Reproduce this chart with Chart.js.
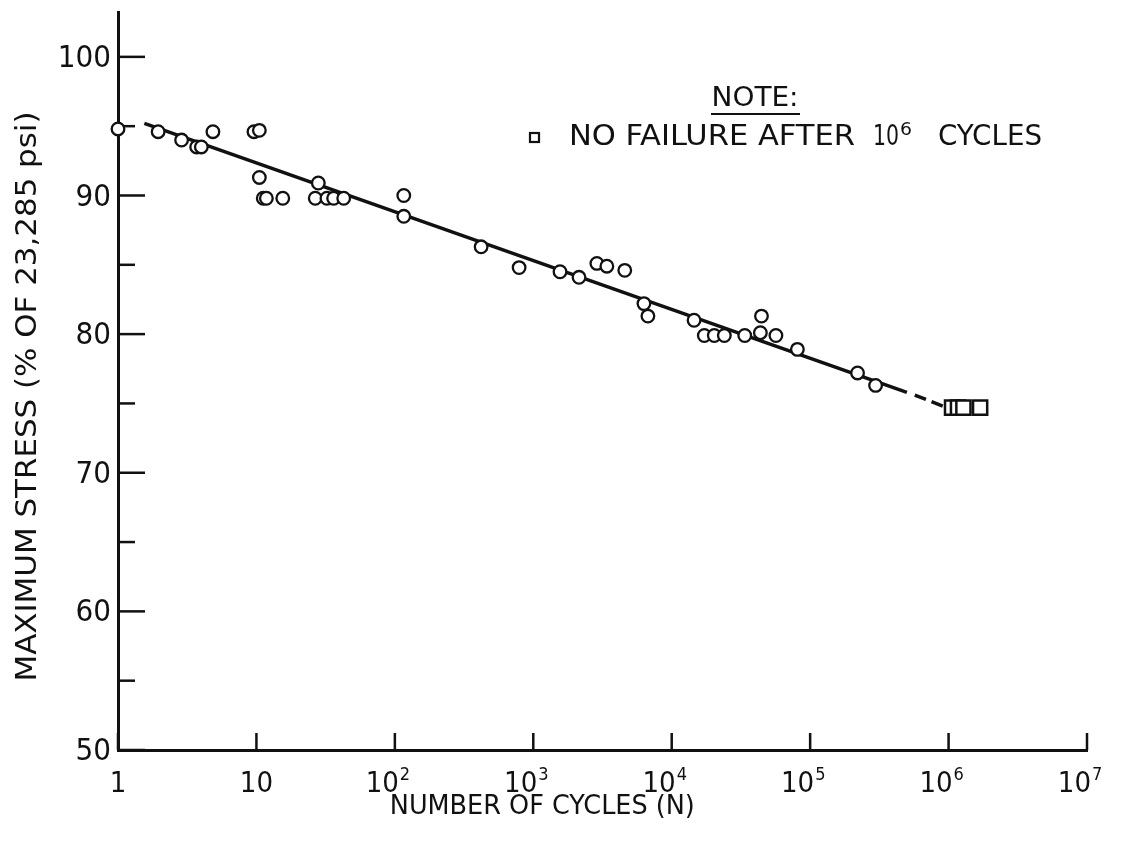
<!DOCTYPE html>
<html>
<head>
<meta charset="utf-8">
<script src="https://cdn.jsdelivr.net/npm/chart.js@4.4.1/dist/chart.umd.min.js"></script>
<style>
  html, body { margin: 0; padding: 0; background: #fff; }
  canvas { display: block; }
</style>
</head>
<body>
<canvas id="snChart" width="1128" height="844"></canvas>
<script>
// S-N fatigue data
const failCycles = [1, 1.95, 2.88, 3.7, 4.0, 4.85, 9.6, 10.5, 10.5, 11.2, 11.8, 15.5,
  28, 26.6, 32.3, 36.1, 42.7, 116, 116, 420, 790, 1560, 2140, 2880, 3400, 4580,
  6300, 6730, 14500, 17200, 20300, 24000, 33700, 44500, 43700, 56600, 80900, 220000, 297000];
const failStress = [94.8, 94.6, 94.0, 93.5, 93.5, 94.6, 94.6, 94.7, 91.3, 89.8, 89.8, 89.8,
  90.9, 89.8, 89.8, 89.8, 89.8, 90.0, 88.5, 86.3, 84.8, 84.5, 84.1, 85.1, 84.9, 84.6,
  82.2, 81.3, 81.0, 79.9, 79.9, 79.9, 79.9, 81.3, 80.1, 79.9, 78.9, 77.2, 76.3];

// run-outs (no failure after 10^6 cycles)
const runoutCycles = [1.06e6, 1.17e6, 1.28e6, 1.69e6];
const runoutStress = [74.7, 74.7, 74.7, 74.7];

// fitted line, solid part and dashed extension
const fitCycles = [1.55, 5.0e5];
const fitStress = [95.2, 75.8];
const fitExtCycles = [5.7e5, 9.7e5];
const fitExtStress = [75.6, 74.7];

const xTickValues = [1, 10, 100, 1e3, 1e4, 1e5, 1e6, 1e7];
const xTickBase = ["1", "10", "10", "10", "10", "10", "10", "10"];
const xTickExp = ["", "", "2", "3", "4", "5", "6", "7"];
const yTickValues = [50, 55, 60, 65, 70, 75, 80, 85, 90, 95, 100];
const yTickLabels = ["50", "", "60", "", "70", "", "80", "", "90", "", "100"];

const COND = "'DejaVu Sans Condensed', 'DejaVu Sans', sans-serif";
const INK = "#111";

const toPoints = (xs, ys) => xs.map((x, i) => ({ x: x, y: ys[i] }));

// draws text stretched/squeezed to a given width
function fitText(ctx, text, cx, cy, width, font, rotate) {
  ctx.save();
  ctx.font = font;
  ctx.textAlign = "center";
  ctx.textBaseline = "middle";
  const sx = width / ctx.measureText(text).width;
  ctx.translate(cx, cy);
  if (rotate) ctx.rotate(-Math.PI / 2);
  ctx.scale(sx, 1);
  ctx.fillText(text, 0, 0);
  ctx.restore();
}

// tick marks pointing into the plot, tick labels, titles, note
const decorations = {
  id: "decorations",
  beforeDatasetsDraw(chart) {
    const { ctx, chartArea, scales } = chart;
    ctx.save();
    ctx.strokeStyle = INK;
    ctx.lineWidth = 2.5;
    yTickValues.forEach(v => {
      const y = scales.y.getPixelForValue(v);
      const len = v % 10 === 0 ? 27 : 17;
      ctx.beginPath();
      ctx.moveTo(chartArea.left, y);
      ctx.lineTo(chartArea.left + len, y);
      ctx.stroke();
    });
    xTickValues.forEach(v => {
      const x = scales.x.getPixelForValue(v);
      ctx.beginPath();
      ctx.moveTo(x, chartArea.bottom);
      ctx.lineTo(x, chartArea.bottom - 17);
      ctx.stroke();
    });
    ctx.restore();
  },
  afterDraw(chart) {
    const { ctx, chartArea, scales } = chart;
    ctx.save();
    ctx.fillStyle = INK;
    ctx.strokeStyle = INK;

    // y tick labels
    ctx.font = "31px " + COND;
    ctx.textAlign = "right";
    ctx.textBaseline = "middle";
    yTickValues.forEach((v, i) => {
      if (yTickLabels[i]) ctx.fillText(yTickLabels[i], chartArea.left - 7, scales.y.getPixelForValue(v) + 2);
    });

    // x tick labels: 10 with superscript power
    ctx.textBaseline = "alphabetic";
    xTickValues.forEach((v, i) => {
      const x = scales.x.getPixelForValue(v);
      ctx.font = "29px " + COND;
      if (!xTickExp[i]) {
        ctx.textAlign = "center";
        ctx.fillText(xTickBase[i], x, 792);
      } else {
        ctx.textAlign = "right";
        ctx.fillText(xTickBase[i], x + 4, 792);
        ctx.font = "18px " + COND;
        ctx.textAlign = "left";
        ctx.fillText(xTickExp[i], x + 5, 780);
      }
    });

    // axis titles
    fitText(ctx, "MAXIMUM STRESS (% OF 23,285 psi)", 29,
      scales.y.getPixelForValue(75.5), 570, "28px " + COND, true);
    fitText(ctx, "NUMBER OF CYCLES (N)", scales.x.getPixelForValue(1000) + 9,
      807, 305, "27px " + COND, false);

    // note
    fitText(ctx, "NOTE:", 755, 99, 87, "26px " + COND, false);
    ctx.lineWidth = 2;
    ctx.beginPath();
    ctx.moveTo(711, 114);
    ctx.lineTo(800, 114);
    ctx.stroke();
    ctx.lineWidth = 2.2;
    ctx.strokeRect(530, 133, 9, 9);
    fitText(ctx, "NO FAILURE AFTER", 712, 138, 286, "28px " + COND, false);
    fitText(ctx, "10", 886, 138, 26, "28px " + COND, false);
    fitText(ctx, "6", 906, 130, 12, "18px " + COND, false);
    fitText(ctx, "CYCLES", 990, 138, 104, "28px " + COND, false);
    ctx.restore();
  }
};

Chart.defaults.font.family = COND;
Chart.defaults.color = INK;

new Chart(document.getElementById("snChart"), {
  type: "scatter",
  data: {
    datasets: [
      {
        label: "Failure",
        data: toPoints(failCycles, failStress),
        pointStyle: "circle",
        pointRadius: 6.3,
        pointBorderWidth: 2.3,
        pointBackgroundColor: "#fff",
        pointBorderColor: INK,
        clip: false,
      },
      {
        label: "No failure after 10⁶ cycles",
        data: toPoints(runoutCycles, runoutStress),
        pointStyle: "rect",
        pointRadius: 10,
        pointBorderWidth: 2.5,
        pointBackgroundColor: "#fff",
        pointBorderColor: INK,
        clip: false,
      },
      {
        label: "Fit",
        type: "line",
        data: toPoints(fitCycles, fitStress),
        borderColor: INK,
        borderWidth: 3.5,
        pointRadius: 0,
        fill: false,
      },
      {
        label: "Fit (extended)",
        type: "line",
        data: toPoints(fitExtCycles, fitExtStress),
        borderColor: INK,
        borderWidth: 3.5,
        borderDash: [12, 6],
        pointRadius: 0,
        fill: false,
      },
    ],
  },
  options: {
    responsive: false,
    animation: false,
    layout: { padding: { top: 12, right: 41, left: 0, bottom: 0 } },
    plugins: { legend: { display: false }, tooltip: { enabled: false } },
    scales: {
      x: {
        type: "logarithmic",
        min: 1,
        max: 1e7,
        afterFit: s => { s.height = 94; },
        afterBuildTicks: s => { s.ticks = xTickValues.map(v => ({ value: v })); },
        ticks: { display: false },
        grid: { drawOnChartArea: false, drawTicks: false },
        border: { display: true, color: INK, width: 3 },
      },
      y: {
        min: 50,
        max: 103.2,
        afterFit: s => { s.width = 118; },
        afterBuildTicks: s => { s.ticks = yTickValues.map(v => ({ value: v })); },
        ticks: { display: false },
        grid: { drawOnChartArea: false, drawTicks: false },
        border: { display: true, color: INK, width: 3 },
      },
    },
  },
  plugins: [decorations],
});
</script>
</body>
</html>
